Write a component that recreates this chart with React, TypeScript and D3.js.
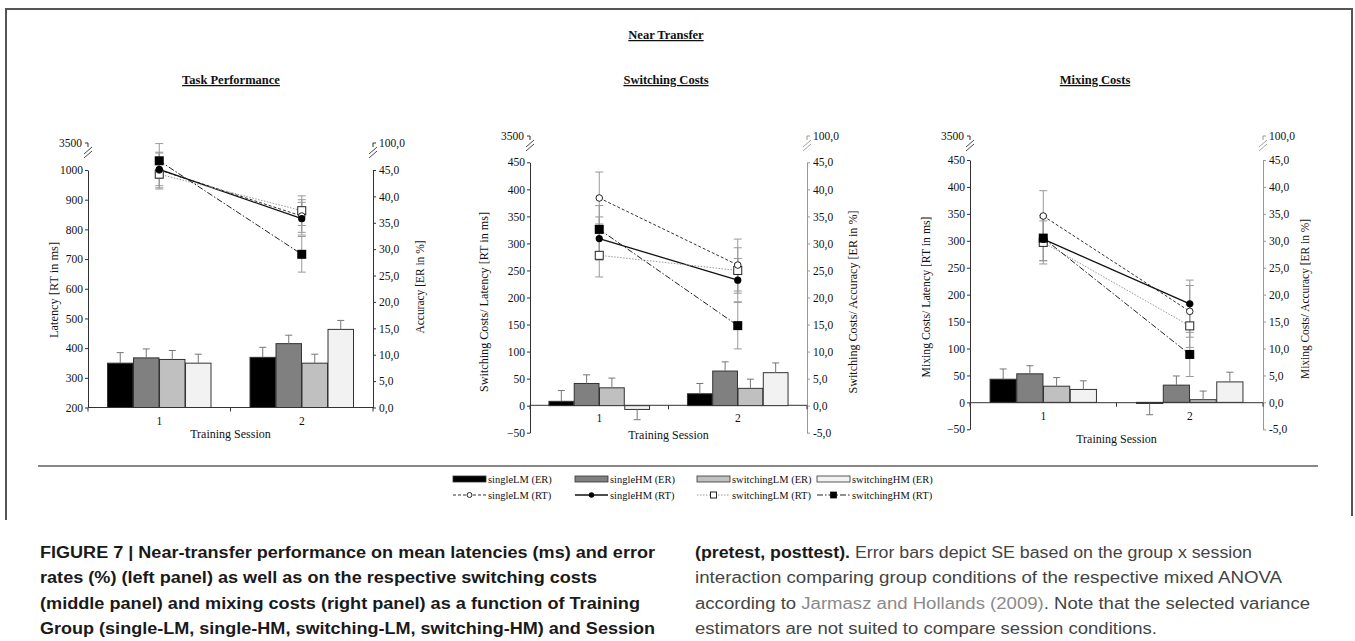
import React, { useEffect, useRef } from "react";
import * as d3 from "d3";

const groups = ["singleLM", "singleHM", "switchingLM", "switchingHM"];
const sessions = ["1", "2"];

// values per group: [session 1, session 2]
// Task Performance
const tpRtMean = [[1000, 845], [1002, 836], [986, 863], [1031, 716]];
const tpRtSE = [[60, 55], [55, 55], [50, 50], [58, 60]];
const tpErMean = [[8.4, 9.5], [9.4, 12.1], [9.1, 8.4], [8.4, 14.8]];
const tpErSE = [[2.0, 1.9], [1.7, 1.6], [1.7, 1.7], [1.7, 1.7]];

// Switching Costs
const scRtMean = [[384, 260], [309, 232], [278, 250], [326, 148]];
const scRtSE = [[48, 48], [40, 40], [40, 42], [44, 43]];
const scErMean = [[0.8, 2.2], [4.1, 6.4], [3.3, 3.2], [-0.7, 6.1]];
const scErSE = [[2.0, 1.9], [1.6, 1.7], [1.8, 1.7], [1.9, 1.8]];

// Mixing Costs
const mcRtMean = [[346, 169], [303, 183], [297, 142], [305, 89]];
const mcRtSE = [[47, 48], [40, 44], [40, 40], [42, 41]];
const mcErMean = [[4.3, -0.2], [5.3, 3.2], [3.0, 0.5], [2.4, 3.8]];
const mcErSE = [[1.9, 2.1], [1.5, 1.7], [1.6, 1.6], [1.6, 1.8]];

const tpLeftTicks = [200, 300, 400, 500, 600, 700, 800, 900, 1000];
const tpRightTicks = [0, 5, 10, 15, 20, 25, 30, 35, 40, 45];
const costLeftTicks = [-50, 0, 50, 100, 150, 200, 250, 300, 350, 400, 450];
const costRightTicks = [-5, 0, 5, 10, 15, 20, 25, 30, 35, 40, 45];
const breakLeftLabel = "3500";
const breakRightLabel = "100,0";

const barFill = ["#000000", "#808080", "#c0c0c0", "#f2f2f2"];
const lineStroke = ["#333", "#111", "#999", "#222"];
const lineDash = ["3,2", null, "1.5,1.5", "6,2,1.5,2"];

const captionLeft = [
  "FIGURE 7 | Near-transfer performance on mean latencies (ms) and error",
  "rates (%) (left panel) as well as on the respective switching costs",
  "(middle panel) and mixing costs (right panel) as a function of Training",
  "Group (single-LM, single-HM, switching-LM, switching-HM) and Session",
];

const serif = "'Liberation Serif', 'DejaVu Serif', serif";
const sans = "'Liberation Sans', Arial, sans-serif";

const fmtL = d3.format("d");
const fmtR = (d) => d.toFixed(1).replace(".", ",");

function drawPanel(svg, p) {
  const g = svg.append("g");
  const x = d3.scaleBand().domain(sessions).range([p.x0, p.x1]);
  const xi = d3.scaleBand().domain(groups).range([0, x.bandwidth()])
    .paddingInner(0.02).paddingOuter(0.75);
  const yL = d3.scaleLinear().domain(p.leftDomain).range([p.yBottom, p.yTop]);
  const yR = d3.scaleLinear().domain(p.rightDomain).range([p.yBottom, p.yTop]);

  // left axis
  const la = g.append("g").attr("transform", `translate(${p.x0},0)`)
    .call(d3.axisLeft(yL).tickValues(p.leftTicks).tickSize(3).tickSizeOuter(0).tickFormat(fmtL));
  la.attr("font-family", serif).attr("font-size", 11.5);
  la.select(".domain").attr("stroke", "#333");
  la.selectAll(".tick line").attr("stroke", "#333");
  la.selectAll(".tick text").attr("fill", "#111").attr("x", -5);

  // right axis
  const ra = g.append("g").attr("transform", `translate(${p.x1},0)`)
    .call(d3.axisRight(yR).tickValues(p.rightTicks).tickSize(3).tickSizeOuter(0).tickFormat(fmtR));
  ra.attr("font-family", serif).attr("font-size", 11.5);
  ra.select(".domain").attr("stroke", p.rightColor);
  ra.selectAll(".tick line").attr("stroke", p.rightColor);
  ra.selectAll(".tick text").attr("fill", "#111").attr("x", 6);

  // axis breaks
  [[p.x0, -1, breakLeftLabel, "#333"], [p.x1, 1, breakRightLabel, p.rightColor]].forEach(([ax, dir, lab, col]) => {
    const yb = p.breakTop;
    g.append("path")
      .attr("d", `M${ax + dir * 3},${yb}H${ax}V${yb + 4}`)
      .attr("fill", "none").attr("stroke", col);
    [0, 4].forEach((k) => {
      g.append("line")
        .attr("x1", ax - 4).attr("y1", yb + 11 + k)
        .attr("x2", ax + 4).attr("y2", yb + 4 + k)
        .attr("stroke", col).attr("stroke-width", 0.9);
    });
    g.append("text")
      .attr("x", ax + dir * 6).attr("y", yb).attr("dy", "0.32em")
      .attr("text-anchor", dir < 0 ? "end" : "start")
      .attr("font-family", serif).attr("font-size", 11.5).attr("fill", "#111")
      .text(lab);
  });

  // x axis
  const xa = p.xAxisY;
  g.append("line").attr("x1", p.x0).attr("x2", p.x1).attr("y1", xa).attr("y2", xa).attr("stroke", "#333");
  [p.x0, (p.x0 + p.x1) / 2, p.x1].forEach((tx) => {
    g.append("line").attr("x1", tx).attr("x2", tx).attr("y1", xa).attr("y2", xa + 4).attr("stroke", "#333");
  });
  sessions.forEach((s) => {
    g.append("text")
      .attr("x", x(s) + x.bandwidth() / 2).attr("y", xa + 17)
      .attr("text-anchor", "middle").attr("font-family", serif).attr("font-size", 11.5).attr("fill", "#111")
      .text(s);
  });
  g.append("text")
    .attr("x", (p.x0 + p.x1) / 2).attr("y", p.xTitleY)
    .attr("text-anchor", "middle").attr("font-family", serif).attr("font-size", 12).attr("fill", "#111")
    .text("Training Session");

  // axis titles
  g.append("text")
    .attr("transform", `translate(${p.leftTitleX},${p.leftTitleY}) rotate(-90)`)
    .attr("text-anchor", "middle").attr("font-family", serif).attr("font-size", 11.5).attr("fill", "#111")
    .attr("textLength", p.leftTitleLen).attr("lengthAdjust", "spacingAndGlyphs")
    .text(p.leftTitle);
  g.append("text")
    .attr("transform", `translate(${p.rightTitleX},${p.rightTitleY}) rotate(-90)`)
    .attr("text-anchor", "middle").attr("font-family", serif).attr("font-size", 11.5).attr("fill", "#111")
    .attr("textLength", p.rightTitleLen).attr("lengthAdjust", "spacingAndGlyphs")
    .text(p.rightTitle);

  // ER bars
  groups.forEach((grp, gi) => {
    sessions.forEach((s, si) => {
      const v = p.erMean[gi][si];
      const se = p.erSE[gi][si];
      const bx = x(s) + xi(grp);
      const bw = xi.bandwidth();
      g.append("rect")
        .attr("x", bx).attr("width", bw)
        .attr("y", Math.min(yR(v), yR(0)))
        .attr("height", Math.abs(yR(v) - yR(0)))
        .attr("fill", barFill[gi]).attr("stroke", "#333").attr("stroke-width", 1);
      const end = v >= 0 ? v + se : v - se;
      const cx = bx + bw / 2;
      g.append("line").attr("x1", cx).attr("x2", cx).attr("y1", yR(v)).attr("y2", yR(end))
        .attr("stroke", "#777");
      g.append("line").attr("x1", cx - 3.5).attr("x2", cx + 3.5).attr("y1", yR(end)).attr("y2", yR(end))
        .attr("stroke", "#777");
    });
  });

  // RT error bars
  groups.forEach((grp, gi) => {
    sessions.forEach((s, si) => {
      const m = p.rtMean[gi][si];
      const se = p.rtSE[gi][si];
      const cx = x(s) + x.bandwidth() / 2;
      g.append("line").attr("x1", cx).attr("x2", cx).attr("y1", yL(m - se)).attr("y2", yL(m + se))
        .attr("stroke", "#999");
      [m - se, m + se].forEach((e) => {
        g.append("line").attr("x1", cx - 4).attr("x2", cx + 4).attr("y1", yL(e)).attr("y2", yL(e))
          .attr("stroke", "#999");
      });
    });
  });

  // RT lines
  const line = d3.line().x((d) => x(d[0]) + x.bandwidth() / 2).y((d) => yL(d[1]));
  groups.forEach((grp, gi) => {
    const pts = sessions.map((s, si) => [s, p.rtMean[gi][si]]);
    g.append("path").attr("d", line(pts)).attr("fill", "none")
      .attr("stroke", lineStroke[gi]).attr("stroke-width", gi === 1 ? 1.3 : 1)
      .attr("stroke-dasharray", lineDash[gi]);
  });
  [2, 0, 1, 3].forEach((gi) => {
    sessions.forEach((s, si) => {
      drawMarker(g, gi, x(s) + x.bandwidth() / 2, yL(p.rtMean[gi][si]), 1);
    });
  });
}

function drawMarker(g, gi, cx, cy, k) {
  if (gi === 0) {
    g.append("circle").attr("cx", cx).attr("cy", cy).attr("r", 3.3 * k).attr("fill", "#fff").attr("stroke", "#222");
  } else if (gi === 1) {
    g.append("circle").attr("cx", cx).attr("cy", cy).attr("r", 3.6 * k).attr("fill", "#000");
  } else if (gi === 2) {
    const s = 8 * k;
    g.append("rect").attr("x", cx - s / 2).attr("y", cy - s / 2).attr("width", s).attr("height", s)
      .attr("fill", "#fff").attr("stroke", "#222");
  } else {
    const s = 9 * k;
    g.append("rect").attr("x", cx - s / 2).attr("y", cy - s / 2).attr("width", s).attr("height", s)
      .attr("fill", "#000");
  }
}

export default function App() {
  const ref = useRef(null);

  useEffect(() => {
    const svg = d3.select(ref.current);
    svg.selectAll("*").remove();

    // frame
    svg.append("path").attr("d", "M6,520V9H1352V516").attr("fill", "none").attr("stroke", "#555").attr("stroke-width", 2);
    svg.append("line").attr("x1", 38).attr("x2", 1318).attr("y1", 466).attr("y2", 466)
      .attr("stroke", "#888").attr("stroke-width", 2);

    // titles
    [["Near Transfer", 666, 39], ["Task Performance", 231, 84], ["Switching Costs", 666, 84], ["Mixing Costs", 1095, 84]]
      .forEach(([t, tx, ty]) => {
        svg.append("text").attr("x", tx).attr("y", ty).attr("text-anchor", "middle")
          .attr("font-family", serif).attr("font-size", 12.5).attr("font-weight", "bold")
          .attr("text-decoration", "underline").attr("fill", "#111").text(t);
      });

    drawPanel(svg, {
      x0: 88, x1: 373, yBottom: 407.5, yTop: 170, breakTop: 143, xAxisY: 407.5, xTitleY: 438,
      leftDomain: [200, 1000], rightDomain: [0, 45],
      leftTicks: tpLeftTicks, rightTicks: tpRightTicks, rightColor: "#333",
      rtMean: tpRtMean, rtSE: tpRtSE, erMean: tpErMean, erSE: tpErSE,
      leftTitle: "Latency  [RT in ms]", leftTitleX: 58, leftTitleY: 290, leftTitleLen: 96,
      rightTitle: "Accuracy [ER in %]", rightTitleX: 424, rightTitleY: 287, rightTitleLen: 93,
    });
    drawPanel(svg, {
      x0: 530, x1: 807, yBottom: 432.7, yTop: 162.3, breakTop: 136, xAxisY: 405.3, xTitleY: 439,
      leftDomain: [-50, 450], rightDomain: [-5, 45],
      leftTicks: costLeftTicks, rightTicks: costRightTicks, rightColor: "#999",
      rtMean: scRtMean, rtSE: scRtSE, erMean: scErMean, erSE: scErSE,
      leftTitle: "Switching Costs/ Latency [RT in ms]", leftTitleX: 488, leftTitleY: 302, leftTitleLen: 180,
      rightTitle: "Switching Costs/ Accuracy [ER in %]", rightTitleX: 857, rightTitleY: 302, rightTitleLen: 183,
    });
    drawPanel(svg, {
      x0: 970, x1: 1263, yBottom: 429.3, yTop: 160, breakTop: 136, xAxisY: 402.7, xTitleY: 443,
      leftDomain: [-50, 450], rightDomain: [-5, 45],
      leftTicks: costLeftTicks, rightTicks: costRightTicks, rightColor: "#999",
      rtMean: mcRtMean, rtSE: mcRtSE, erMean: mcErMean, erSE: mcErSE,
      leftTitle: "Mixing Costs/ Latency  [RT in ms]", leftTitleX: 930, leftTitleY: 297, leftTitleLen: 161,
      rightTitle: "Mixing Costs/ Accuracy [ER in %]", rightTitleX: 1309, rightTitleY: 299, rightTitleLen: 160,
    });

    // legend
    const colX = [453, 575, 697, 817];
    groups.forEach((grp, gi) => {
      const lx = colX[gi];
      svg.append("rect").attr("x", lx).attr("y", 476).attr("width", 33).attr("height", 6)
        .attr("fill", barFill[gi]).attr("stroke", "#333").attr("stroke-width", 0.8);
      svg.append("text").attr("x", lx + 35).attr("y", 482.5)
        .attr("font-family", serif).attr("font-size", 10.5).attr("fill", "#111").text(`${grp} (ER)`);
      svg.append("line").attr("x1", lx).attr("x2", lx + 33).attr("y1", 495).attr("y2", 495)
        .attr("stroke", lineStroke[gi]).attr("stroke-width", gi === 1 ? 1.3 : 1)
        .attr("stroke-dasharray", lineDash[gi]);
      drawMarker(svg, gi, lx + 16.5, 495, 0.75);
      svg.append("text").attr("x", lx + 35).attr("y", 498.5)
        .attr("font-family", serif).attr("font-size", 10.5).attr("fill", "#111").text(`${grp} (RT)`);
    });

    // caption
    const leftLens = [615, 557, 600, 615];
    captionLeft.forEach((t, i) => {
      svg.append("text").attr("x", 40).attr("y", 558 + i * 25.3)
        .attr("font-family", sans).attr("font-size", 16).attr("font-weight", "bold").attr("fill", "#1a1a1a")
        .attr("textLength", leftLens[i]).attr("lengthAdjust", "spacingAndGlyphs").text(t);
    });
    const rx = 695;
    const r1 = svg.append("text").attr("x", rx).attr("y", 558).attr("font-family", sans).attr("font-size", 16)
      .attr("textLength", 557).attr("lengthAdjust", "spacingAndGlyphs");
    r1.append("tspan").attr("font-weight", "bold").attr("fill", "#1a1a1a").text("(pretest, posttest).");
    r1.append("tspan").attr("fill", "#444").text(" Error bars depict SE based on the group x session");
    svg.append("text").attr("x", rx).attr("y", 583.3).attr("font-family", sans).attr("font-size", 16)
      .attr("fill", "#444").attr("textLength", 587).attr("lengthAdjust", "spacingAndGlyphs")
      .text("interaction comparing group conditions of the respective mixed ANOVA");
    const r3 = svg.append("text").attr("x", rx).attr("y", 608.6).attr("font-family", sans).attr("font-size", 16)
      .attr("textLength", 615).attr("lengthAdjust", "spacingAndGlyphs");
    r3.append("tspan").attr("fill", "#444").text("according to ");
    r3.append("tspan").attr("fill", "#8a8a8a").text("Jarmasz and Hollands (2009)");
    r3.append("tspan").attr("fill", "#444").text(". Note that the selected variance");
    svg.append("text").attr("x", rx).attr("y", 633.9).attr("font-family", sans).attr("font-size", 16)
      .attr("fill", "#444").attr("textLength", 462).attr("lengthAdjust", "spacingAndGlyphs")
      .text("estimators are not suited to compare session conditions.");
  }, []);

  return (
    <svg ref={ref} width={1355} height={641}
      style={{ position: "absolute", left: 0, top: 0, background: "#fff" }} />
  );
}
